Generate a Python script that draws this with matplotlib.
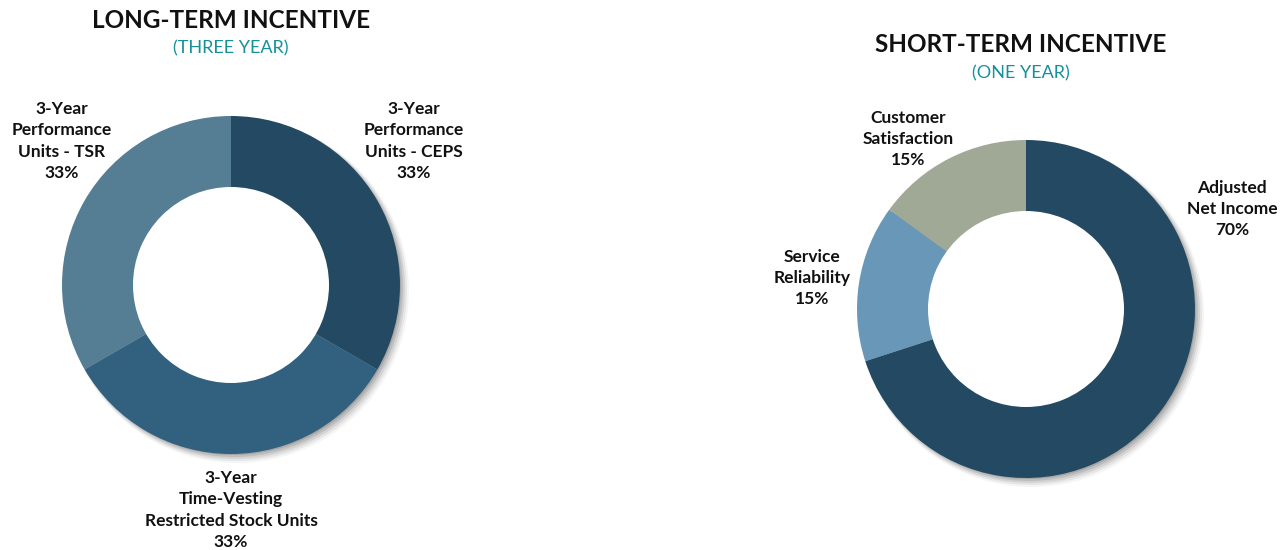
import matplotlib.pyplot as plt
import numpy as np

# data
lti_labels = ['3-Year\nPerformance\nUnits - CEPS\n33%',
              '3-Year\nTime-Vesting\nRestricted Stock Units\n33%',
              '3-Year\nPerformance\nUnits - TSR\n33%']
lti_values = [33, 33, 33]
lti_colors = ['#244a63', '#32617f', '#557e94']

sti_labels = ['Adjusted\nNet Income\n70%',
              'Service\nReliability\n15%',
              'Customer\nSatisfaction\n15%']
sti_values = [70, 15, 15]
sti_colors = ['#244a63', '#6897b7', '#a0a996']

W, H = 1286, 550
R, r = 169, 98
plt.rcParams['font.family'] = ['Lato', 'DejaVu Sans']

fig = plt.figure(figsize=(W / 100, H / 100), dpi=100)
ax = fig.add_axes([0, 0, 1, 1])
ax.set_xlim(0, W)
ax.set_ylim(0, H)
ax.set_aspect('equal')
ax.axis('off')


def donut(cx, cy, values, colors):
    c = (cx, H - cy)
    # soft shadow below/right
    for i, a in enumerate([0.04, 0.06, 0.08, 0.10, 0.12]):
        off = 6 - i
        ax.pie([1], colors=['#000000'], center=(c[0] + off, c[1] - off),
               radius=R + 3 - i, wedgeprops=dict(alpha=a, linewidth=0))
    ax.pie(values, colors=colors, center=c, radius=R, startangle=90,
           counterclock=False, wedgeprops=dict(linewidth=0))
    ax.pie([1], colors=['white'], center=c, radius=r,
           wedgeprops=dict(linewidth=0))


donut(231, 285, lti_values, lti_colors)
donut(1026, 309, sti_values, sti_colors)
ax.set_xlim(0, W)
ax.set_ylim(0, H)

lbl = dict(ha='center', va='center', fontsize=12.5, fontweight='bold',
           color='#111111', linespacing=1.4)
ax.text(414, H - 141, lti_labels[0], **lbl)
ax.text(231, H - 510, lti_labels[1], **lbl)
ax.text(62, H - 141, lti_labels[2], **lbl)
ax.text(1232, H - 209, sti_labels[0], **lbl)
ax.text(812, H - 278, sti_labels[1], **lbl)
ax.text(908, H - 139, sti_labels[2], **lbl)

ttl = dict(ha='center', va='center', fontsize=17.5, fontweight='bold', color='#111111')
sub = dict(ha='center', va='center', fontsize=13, color='#17909a')
ax.text(231, H - 20, 'LONG-TERM INCENTIVE', **ttl)
ax.text(231, H - 48, '(THREE YEAR)', **sub)
ax.text(1021, H - 45, 'SHORT-TERM INCENTIVE', **ttl)
ax.text(1021, H - 73, '(ONE YEAR)', **sub)

fig.savefig('out.png', dpi=100)
